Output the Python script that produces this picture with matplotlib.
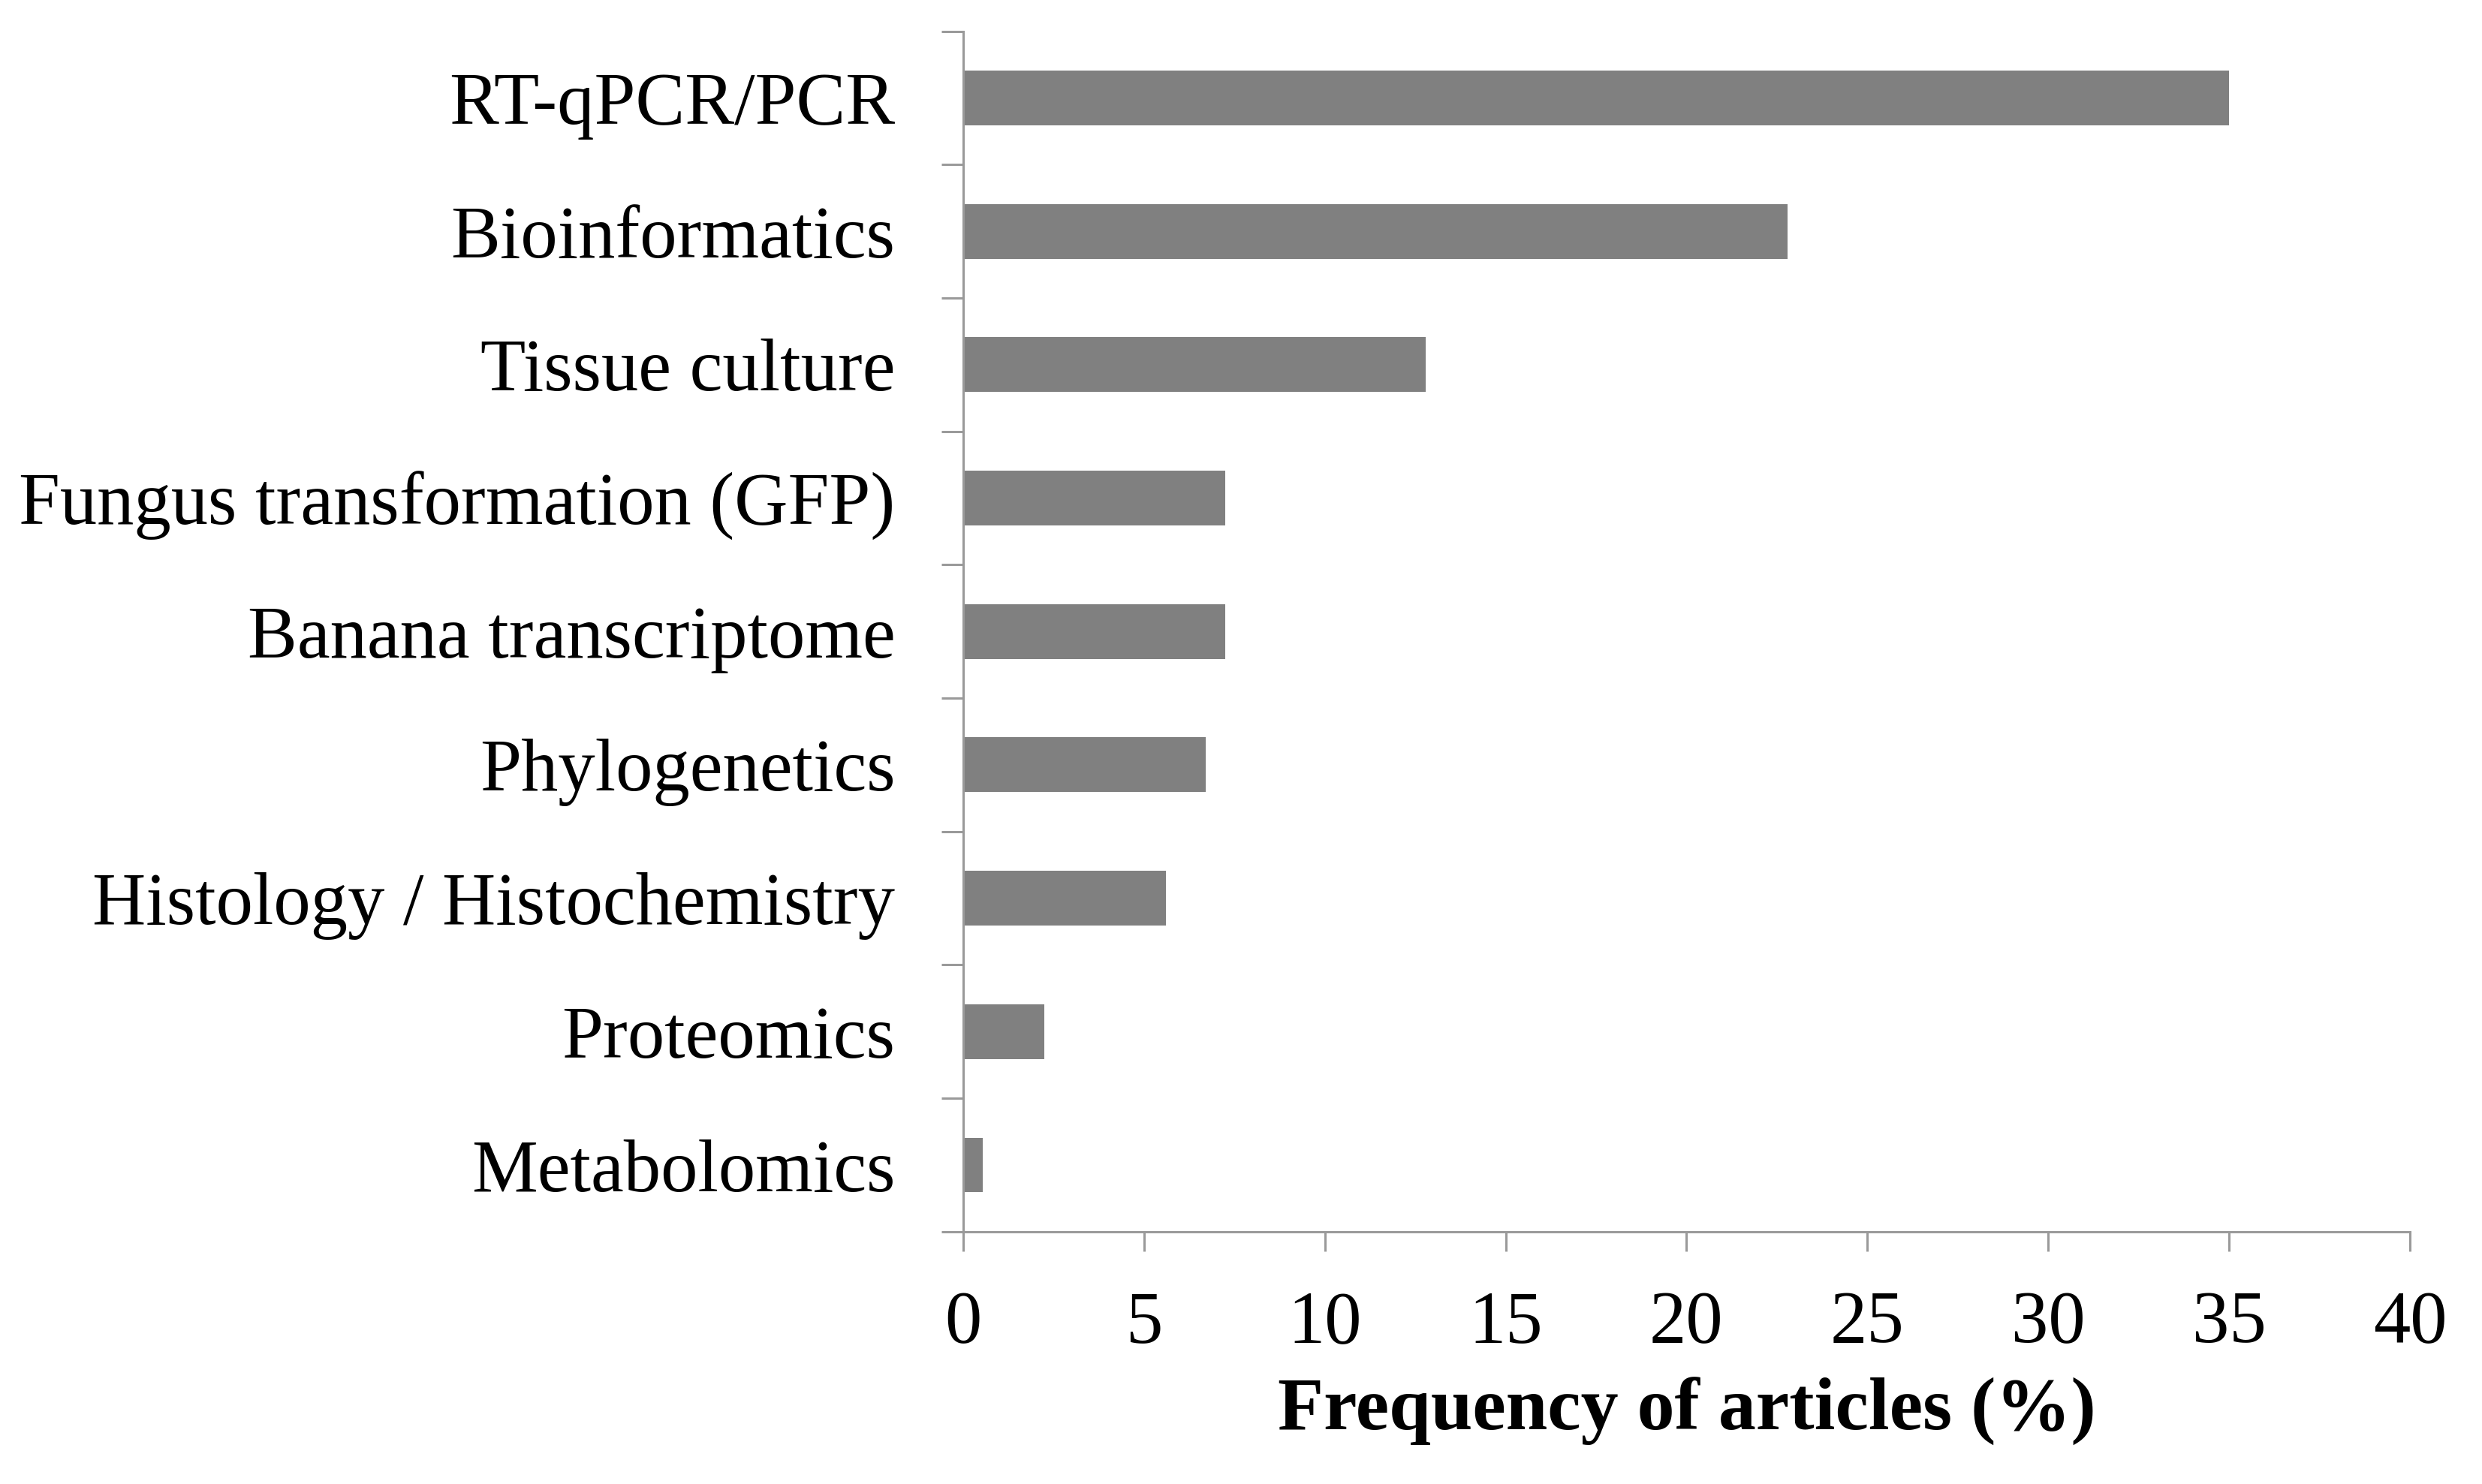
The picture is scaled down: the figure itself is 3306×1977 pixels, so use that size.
import numpy as np
import matplotlib
matplotlib.use('Agg')
import matplotlib.pyplot as plt

# categories top to bottom, frequency in percent
methods = [
    'RT-qPCR/PCR',
    'Bioinformatics',
    'Tissue culture',
    'Fungus transformation (GFP)',
    'Banana transcriptome',
    'Phylogenetics',
    'Histology / Histochemistry',
    'Proteomics',
    'Metabolomics',
]
frequency = [35.0, 22.8, 12.8, 7.25, 7.25, 6.7, 5.6, 2.25, 0.55]
xticks = [0, 5, 10, 15, 20, 25, 30, 35, 40]

plt.rcParams['font.family'] = ['Liberation Serif', 'DejaVu Serif']

axis_color = '#9a9a9a'

fig = plt.figure(figsize=(33.06, 19.77), dpi=100)
ax = fig.add_axes([0.388, 0.170, 0.583, 0.809])

pos = np.arange(len(methods))
ax.barh(pos, frequency, height=0.41, color='#808080')

ax.set_xlim(0, 40)
ax.set_ylim(len(methods) - 0.5, -0.5)

ax.set_xticks(xticks)
ax.set_xticklabels([str(t) for t in xticks], fontsize=71)
ax.tick_params(axis='x', which='major', length=19, width=2.2,
               color=axis_color, pad=37, direction='out')

# labels at the bar centres, tick marks between the categories
ax.set_yticks(pos)
ax.set_yticklabels(methods, fontsize=71)
ax.tick_params(axis='y', which='major', length=0, pad=65)
ax.set_yticks(np.arange(-0.5, len(methods) + 0.5, 1), minor=True)
ax.tick_params(axis='y', which='minor', length=21, width=2.2,
               color=axis_color, direction='out')

for side in ['top', 'right']:
    ax.spines[side].set_visible(False)
for side in ['left', 'bottom']:
    ax.spines[side].set_color(axis_color)
    ax.spines[side].set_linewidth(2.2)

ax.set_xlabel('Frequency of articles (%)', fontsize=72, fontweight='bold',
              labelpad=19)

fig.savefig('out.png', dpi=100, facecolor='white')
